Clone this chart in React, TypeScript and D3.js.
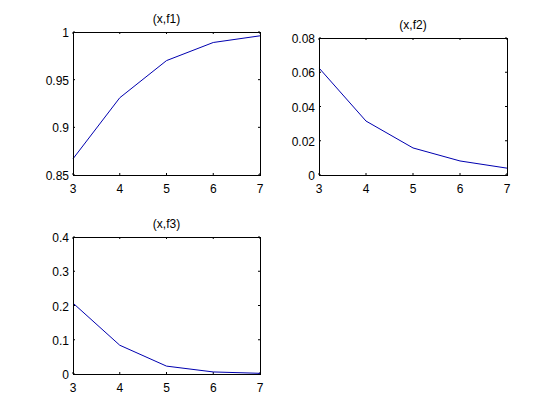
import React, { useRef, useEffect } from "react";
import * as d3 from "d3";

const xValues = [3, 4, 5, 6, 7];
const f1 = [0.867, 0.931, 0.970, 0.989, 0.996];
const f2 = [0.0625, 0.0315, 0.0158, 0.0082, 0.004];
const f3 = [0.207, 0.084, 0.023, 0.006, 0.002];

const xTicks = [3, 4, 5, 6, 7];
const f1Ticks = [0.85, 0.9, 0.95, 1];
const f2Ticks = [0, 0.02, 0.04, 0.06, 0.08];
const f3Ticks = [0, 0.1, 0.2, 0.3, 0.4];

const titles = ["(x,f1)", "(x,f2)", "(x,f3)"];

const panels = [
  { title: titles[0], values: f1, ticks: f1Ticks, domain: [0.85, 1], box: { left: 73, right: 260, top: 32, bottom: 175 } },
  { title: titles[1], values: f2, ticks: f2Ticks, domain: [0, 0.08], box: { left: 319, right: 507, top: 38, bottom: 175 } },
  { title: titles[2], values: f3, ticks: f3Ticks, domain: [0, 0.4], box: { left: 73, right: 260, top: 237, bottom: 374 } },
];

const App = () => {
  const ref = useRef(null);

  useEffect(() => {
    const svg = d3.select(ref.current);
    svg.selectAll("*").remove();
    const font = "'Liberation Sans', Arial, Helvetica, sans-serif";

    panels.forEach((p) => {
      const { left, right, top, bottom } = p.box;
      const x = d3.scaleLinear().domain([3, 7]).range([left, right]);
      const y = d3.scaleLinear().domain(p.domain).range([bottom, top]);
      const g = svg.append("g");

      // ticks, inward on all four sides
      const tl = 2;
      xTicks.forEach((t) => {
        g.append("line").attr("x1", x(t)).attr("x2", x(t)).attr("y1", bottom).attr("y2", bottom - tl).attr("stroke", "#000");
        g.append("line").attr("x1", x(t)).attr("x2", x(t)).attr("y1", top).attr("y2", top + tl).attr("stroke", "#000");
        g.append("text")
          .attr("x", x(t))
          .attr("y", bottom + 18)
          .attr("text-anchor", "middle")
          .attr("font-family", font)
          .attr("font-size", 12)
          .text(String(t));
      });
      p.ticks.forEach((t) => {
        g.append("line").attr("x1", left).attr("x2", left + tl).attr("y1", y(t)).attr("y2", y(t)).attr("stroke", "#000");
        g.append("line").attr("x1", right).attr("x2", right - tl).attr("y1", y(t)).attr("y2", y(t)).attr("stroke", "#000");
        g.append("text")
          .attr("x", left - 4)
          .attr("y", y(t) + 5)
          .attr("text-anchor", "end")
          .attr("font-family", font)
          .attr("font-size", 12)
          .text(String(t));
      });

      const pts = xValues.map((xv, i) => [xv, p.values[i]]);
      const ln = d3.line().x((d) => x(d[0])).y((d) => y(d[1]));
      g.append("path")
        .datum(pts)
        .attr("d", ln)
        .attr("fill", "none")
        .attr("stroke", "#0000b0")
        .attr("stroke-width", 1);

      g.append("rect")
        .attr("x", left + 0.5)
        .attr("y", top + 0.5)
        .attr("width", right - left)
        .attr("height", bottom - top)
        .attr("fill", "none")
        .attr("stroke", "#000")
        .attr("stroke-width", 1);

      g.append("text")
        .attr("x", (left + right) / 2)
        .attr("y", top - 9)
        .attr("text-anchor", "middle")
        .attr("font-family", font)
        .attr("font-size", 12)
        .text(p.title);
    });
  }, []);

  return (
    <svg
      ref={ref}
      width={560}
      height={420}
      style={{ position: "absolute", left: 0, top: 0, background: "#fff" }}
    />
  );
};

export default App;
